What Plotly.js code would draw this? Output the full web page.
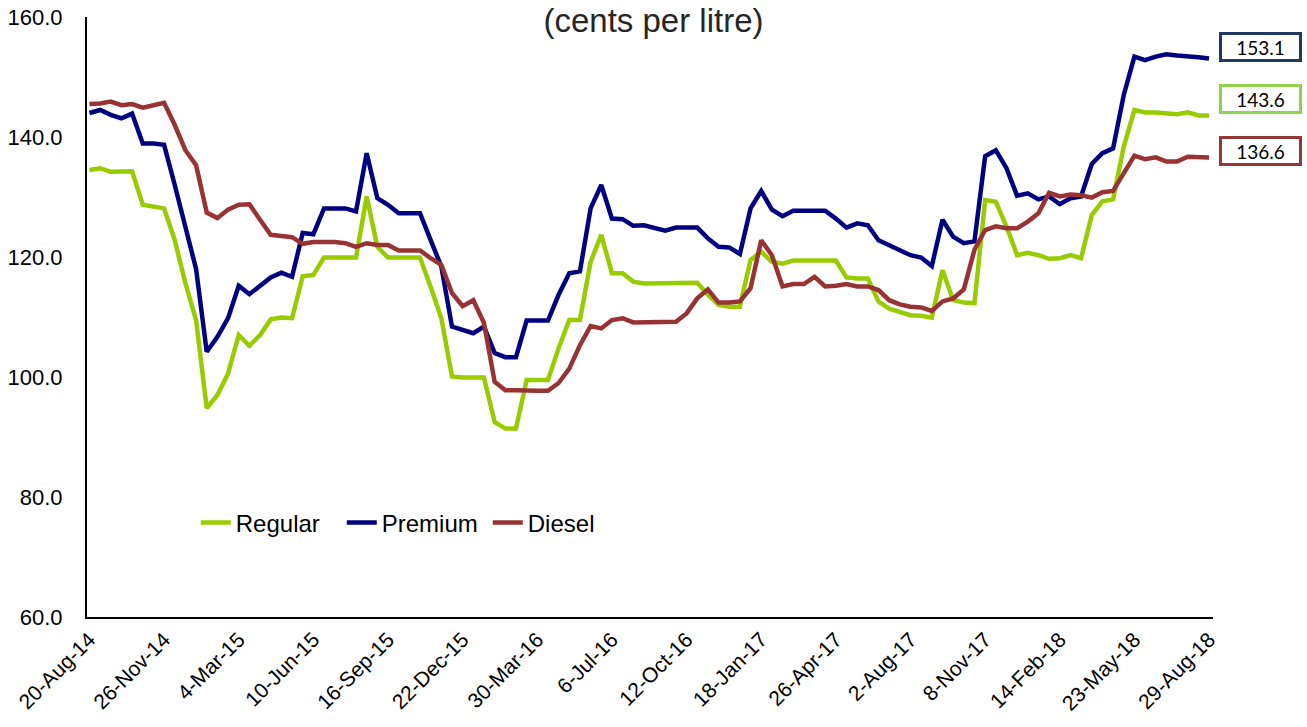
<!DOCTYPE html>
<html>
<head>
<meta charset="utf-8">
<script src="https://cdn.plot.ly/plotly-3.0.1.min.js"></script>
<style>html,body{margin:0;padding:0;background:#fff;}#chart{width:1307px;height:727px;}</style>
</head>
<body>
<div id="chart"></div>
<script>
// Fortnightly pump prices, 20-Aug-14 .. 29-Aug-18 (cents per litre)
const tickLabels = ["20-Aug-14","26-Nov-14","4-Mar-15","10-Jun-15","16-Sep-15","22-Dec-15","30-Mar-16","6-Jul-16","12-Oct-16","18-Jan-17","26-Apr-17","2-Aug-17","8-Nov-17","14-Feb-18","23-May-18","29-Aug-18"];

const regular = [134.5,134.8,134.2,134.2,134.3,128.7,128.4,128.1,122.8,115.6,
 109.5,94.8,97.0,100.6,107.0,105.2,107.0,109.6,109.9,109.8,
 116.8,117.0,119.9,119.9,119.9,119.9,130.1,121.7,119.9,119.9,
 119.9,119.9,115.0,109.8,100.1,99.9,99.9,99.9,92.5,91.4,
 91.4,99.5,99.5,99.5,104.8,109.5,109.5,119.2,123.7,117.3,
 117.3,115.9,115.6,115.6,115.6,115.6,115.6,115.7,113.7,112.0,
 111.7,111.7,119.5,120.9,119.2,118.9,119.4,119.4,119.4,119.4,
 119.4,116.6,116.4,116.4,112.6,111.4,110.9,110.3,110.2,109.9,
 117.8,112.8,112.4,112.3,129.5,129.2,125.1,120.3,120.7,120.3,
 119.7,119.8,120.3,119.8,127.0,129.3,129.6,138.4,144.5,144.1,
 144.1,144.0,143.8,144.1,143.6,143.6];

const premium = [144.0,144.5,143.7,143.1,143.9,138.9,138.9,138.7,132.0,125.0,
 118.0,104.2,106.7,109.8,115.2,113.8,115.3,116.6,117.4,116.7,
 124.0,123.8,128.1,128.1,128.1,127.6,137.3,129.8,128.7,127.3,
 127.3,127.3,122.8,118.4,108.4,107.8,107.3,108.4,104.0,103.3,
 103.3,109.4,109.4,109.4,113.7,117.3,117.6,128.1,132.0,126.4,
 126.3,125.2,125.3,124.9,124.4,124.9,124.9,124.9,123.1,121.7,
 121.6,120.5,128.1,131.0,127.9,126.8,127.7,127.7,127.7,127.7,
 126.4,124.9,125.6,125.3,122.8,122.0,121.3,120.3,119.9,118.5,
 126.2,123.4,122.3,122.6,136.8,137.8,134.8,130.2,130.6,129.6,
 130.1,128.8,129.8,130.1,135.5,137.3,138.1,147.0,153.4,152.8,
 153.4,153.8,153.6,153.5,153.3,153.1];

const diesel = [145.5,145.6,145.9,145.3,145.5,144.9,145.3,145.7,142.0,137.8,
 135.3,127.4,126.5,127.9,128.7,128.8,126.2,123.7,123.5,123.3,
 122.2,122.5,122.5,122.5,122.3,121.7,122.3,122.0,122.0,121.1,
 121.1,121.1,119.8,118.7,114.0,111.8,112.8,109.0,99.2,97.8,
 97.8,97.7,97.7,97.7,99.0,101.4,105.3,108.5,108.1,109.5,
 109.8,109.1,109.1,109.1,109.2,109.2,110.6,113.1,114.6,112.4,
 112.4,112.6,114.8,122.8,120.3,115.1,115.5,115.5,116.7,115.1,
 115.2,115.5,115.1,115.1,114.5,112.8,112.1,111.7,111.6,111.0,
 112.6,113.1,114.6,121.2,124.5,125.1,124.8,124.8,125.9,127.3,
 130.7,130.1,130.4,130.3,129.9,130.8,131.0,133.9,136.9,136.3,
 136.6,135.9,135.9,136.7,136.7,136.6];

const seriesNames = ["Regular","Premium","Diesel"];
const seriesData = [regular, premium, diesel];
const lineColors = ["#99CC00","#000080","#993333"];
const boxColors = ["#92D050","#1F3864","#953735"];
const boxYShift = [16, 11, 6];

const idx = regular.map((_, i) => i);
const tickStep = 7;
const tickVals = tickLabels.map((_, k) => k * tickStep);

const FONT = "Liberation Sans, Arial, sans-serif";

const traces = seriesData.map((d, s) => ({
  x: idx, y: d, type: "scatter", mode: "lines", name: seriesNames[s],
  line: {color: lineColors[s], width: 4.5}, hoverinfo: "x+y"
}));

const annotations = seriesData.map((d, s) => ({
  x: d.length - 1, y: d[d.length - 1], xref: "x", yref: "y",
  text: d[d.length - 1].toFixed(1), showarrow: false,
  xanchor: "center", yanchor: "middle", xshift: 51.5, yshift: boxYShift[s],
  width: 73, height: 20, borderpad: 2, borderwidth: 3,
  bordercolor: boxColors[s], bgcolor: "#ffffff",
  font: {family: "Lato, Liberation Sans, sans-serif", size: 19, color: "#000"}
}));

const layout = {
  width: 1307, height: 727,
  margin: {l: 87, r: 94, t: 17, b: 110},
  paper_bgcolor: "#fff", plot_bgcolor: "#fff",
  font: {family: FONT, color: "#000"},
  title: {text: "(cents per litre)", x: 0.5, xref: "container", xanchor: "center",
          y: 0.972, yref: "container", yanchor: "middle",
          font: {family: FONT, size: 33, color: "#262626"}},
  showlegend: true,
  legend: {orientation: "h", x: 0.0966, xanchor: "left", y: 0.157, yanchor: "middle",
           entrywidth: 101, entrywidthmode: "pixels",
           font: {family: FONT, size: 24, color: "#000"}, bgcolor: "rgba(0,0,0,0)",
           itemclick: false, tracegroupgap: 0},
  xaxis: {range: [-0.23, 105.37], tickmode: "array", tickvals: tickVals, ticktext: tickLabels,
          tickangle: -45, showgrid: false, zeroline: false, showline: true,
          linecolor: "#000", linewidth: 2, ticks: "", tickfont: {family: FONT, size: 21, color: "#000"},
          fixedrange: true},
  yaxis: {range: [60, 160], tickmode: "linear", tick0: 60, dtick: 20, tickformat: ".1f",
          showgrid: false, zeroline: false, showline: true, linecolor: "#000", linewidth: 2,
          ticks: "", ticklabelstandoff: 18, tickfont: {family: FONT, size: 22, color: "#000"},
          fixedrange: true},
  annotations: annotations
};

Plotly.newPlot("chart", traces, layout, {displayModeBar: false, staticPlot: true});
</script>
</body>
</html>
